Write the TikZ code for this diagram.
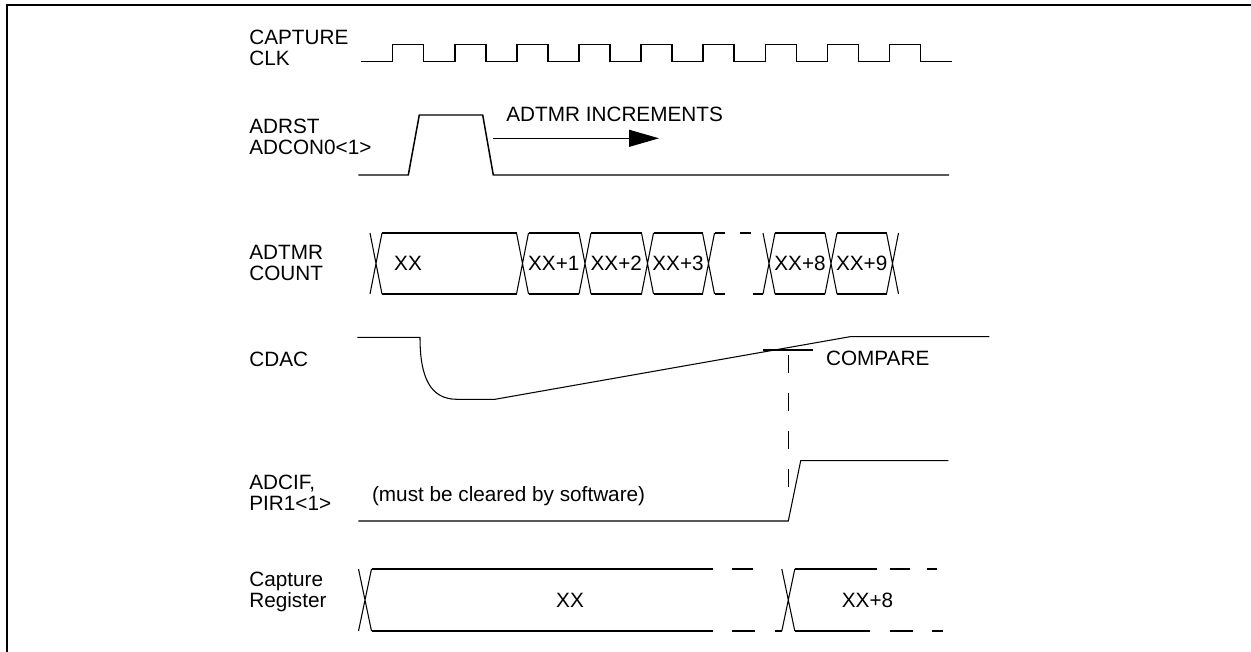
\documentclass[tikz,border=0pt]{standalone}
\usepackage{fontspec}
\setmainfont{Liberation Sans}
\usetikzlibrary{arrows.meta}
\begin{document}
\begin{tikzpicture}[x=0.02cm,y=-0.02cm,
        font=\fontsize{11.8}{11.8}\selectfont,
        every node/.style={inner sep=0pt},
        wave/.style={line width=0.6pt},
        clkwave/.style={line width=0.85pt},
        signame/.style={anchor=base west,align=left}]
\useasboundingbox (0,0) rectangle (1251,652);

% Frame
\draw [line width=0.04cm] (7,652) -- (7,5) -- (1251,5);%

% Signal names (base of the last line)
\node [signame] (nclk) at (249,65.7) {CAPTURE\\CLK};%
\node [signame] (nadrst) at (249,154) {ADRST\\ADCON0<1>};%
\node [signame] (nadtmr) at (249,280) {ADTMR\\COUNT};%
\node [signame] (ncdac) at (249,366.7) {CDAC};%
\node [signame] (nadcif) at (249,510) {ADCIF,\\PIR1<1>};%
\node [signame] (ncapreg) at (249,607.7) {Capture\\Register};%

% Drawing CAPTURE CLK
\draw [clkwave] (361,61.5) -- (392.7,61.5) -- (392.7,44.5) -- (423.7,44.5) -- (423.7,61.5)
        -- (454.8,61.5) -- (454.8,44.5) -- (485.8,44.5) -- (485.8,61.5)
        -- (516.9,61.5) -- (516.9,44.5) -- (547.9,44.5) -- (547.9,61.5)
        -- (579.0,61.5) -- (579.0,44.5) -- (610.0,44.5) -- (610.0,61.5)
        -- (641.1,61.5) -- (641.1,44.5) -- (672.1,44.5) -- (672.1,61.5)
        -- (703.2,61.5) -- (703.2,44.5) -- (734.2,44.5) -- (734.2,61.5)
        -- (765.3,61.5) -- (765.3,44.5) -- (796.3,44.5) -- (796.3,61.5)
        -- (827.4,61.5) -- (827.4,44.5) -- (858.4,44.5) -- (858.4,61.5)
        -- (889.5,61.5) -- (889.5,44.5) -- (920.5,44.5) -- (920.5,61.5) -- (952.3,61.5);%

% Drawing ADRST
\draw [clkwave] (358.3,175) -- (408.3,175) -- (419.3,115) -- (482.7,115) -- (493.3,175) -- (949,175);%
\coordinate (incrA) at (492.7,138.3);
\coordinate (incrB) at (659,138.3);
\draw [wave,-{Triangle[length=0.6cm,width=0.34cm]}] (incrA) -- (incrB);%
\node [anchor=base west] (incr) at (506,121.7) {ADTMR INCREMENTS};%

% Drawing ADTMR COUNT bus
\draw [wave] (370,233) -- (382,294) (370,294) -- (382,233);%
\draw [wave] (382,233) -- (516.5,233) (382,294) -- (516.5,294);%
\draw [wave] (516.5,233) -- (528.5,294) (516.5,294) -- (528.5,233);%
\draw [wave] (528.5,233) -- (579,233) (528.5,294) -- (579,294);%
\draw [wave] (579,233) -- (591,294) (579,294) -- (591,233);%
\draw [wave] (591,233) -- (641.5,233) (591,294) -- (641.5,294);%
\draw [wave] (641.5,233) -- (653.5,294) (641.5,294) -- (653.5,233);%
\draw [wave] (653.5,233) -- (702.5,233) (653.5,294) -- (702.5,294);%
\draw [wave] (702.5,233) -- (714.5,294) (702.5,294) -- (714.5,233);%
\draw [wave] (714.5,233) -- (725,233) (740,233) -- (751,233);%
\draw [wave] (714.5,294) -- (725,294) (753,294) -- (763,294);%
\draw [wave] (763,233) -- (775,294) (763,294) -- (775,233);%
\draw [wave] (775,233) -- (825,233) (775,294) -- (825,294);%
\draw [wave] (825,233) -- (837,294) (825,294) -- (837,233);%
\draw [wave] (837,233) -- (886.5,233) (837,294) -- (886.5,294);%
\draw [wave] (886.5,233) -- (898.5,294) (886.5,294) -- (898.5,233);%
\node (cnt0) at (408,263.5) {XX};%
\node (cnt1) at (553.8,263.5) {XX+1};%
\node (cnt2) at (616.3,263.5) {XX+2};%
\node (cnt3) at (678,263.5) {XX+3};%
\node (cnt8) at (800,263.5) {XX+8};%
\node (cnt9) at (861.7,263.5) {XX+9};%

% Drawing CDAC
\draw [wave] (357.3,337.3) -- (420,337.3) .. controls (420,377) and (430,399.3) .. (457,399.3)
        -- (495,399.3) -- (850,336.7) -- (989.3,336.7);%
\draw [wave] (763.3,350) -- (813.3,350);%
\node [anchor=base west] (cmp) at (825.7,365) {COMPARE};%
\draw [wave,dash pattern=on 0.36cm off 0.4cm] (788.3,355) -- (788.3,487);%

% Drawing ADCIF
\draw [wave] (358.3,521) -- (788.3,521) -- (800.7,460.7) -- (948.3,460.7);%
\node [anchor=base west] (clear) at (371.7,501) {(must be cleared by software)};%

% Drawing Capture Register
\draw [wave] (358.5,569) -- (371.5,631) (358.5,631) -- (371.5,569);%
\draw [wave] (371.5,569) -- (713,569) (731.7,569) -- (753.3,569);%
\draw [wave] (371.5,631) -- (713,631) (731.7,631) -- (755,631) (775,631) -- (781.8,631);%
\draw [wave] (781.8,569) -- (794.8,631) (781.8,631) -- (794.8,569);%
\draw [wave] (794.8,569) -- (877,569) (890,569) -- (910,569) (927,569) -- (937,569);%
\draw [wave] (794.8,631) -- (870,631) (890,631) -- (913,631) (932,631) -- (943,631);%
\node (cap0) at (570,600) {XX};%
\node (cap8) at (867.5,600) {XX+8};%
\end{tikzpicture}
\end{document}
